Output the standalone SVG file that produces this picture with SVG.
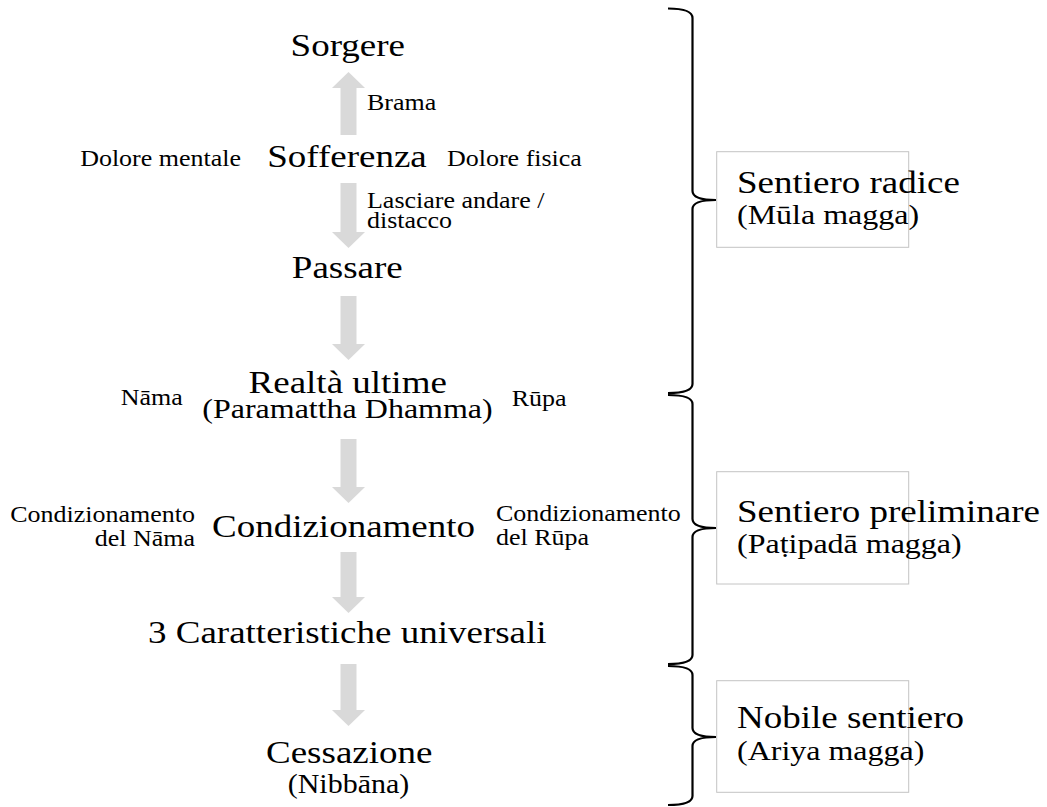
<svg xmlns="http://www.w3.org/2000/svg" width="1047" height="807" viewBox="0 0 1047 807">
<style>
.t{font-family:"Liberation Serif","Times New Roman",serif;fill:#000}
.b{font-size:37px}
.m{font-size:32px}
.s{font-size:26px}
.c{text-anchor:middle}
.e{text-anchor:end}
.arrow{fill:#d9d9d9}
.brace{fill:none;stroke:#000;stroke-width:2.2}
.box{fill:none;stroke:#c4c4c4;stroke-width:1}
</style>
<rect width="1047" height="807" fill="#fff"/>
<g id="connectors">
<polygon class="arrow" points="348.5,72 365,88 356.5,88 356.5,135 340.5,135 340.5,88 332,88"/>
<polygon class="arrow" points="340.5,183 356.5,183 356.5,232 365,232 348.5,248 332,232 340.5,232"/>
<polygon class="arrow" points="340.5,296 356.5,296 356.5,344 365,344 348.5,360 332,344 340.5,344"/>
<polygon class="arrow" points="340.5,439 356.5,439 356.5,487 365,487 348.5,503 332,487 340.5,487"/>
<polygon class="arrow" points="340.5,552 356.5,552 356.5,597 365,597 348.5,613 332,597 340.5,597"/>
<polygon class="arrow" points="340.5,664 356.5,664 356.5,710 365,710 348.5,726 332,710 340.5,710"/>
<path class="brace" d="M668,8.5 Q692.5,8.5 692.5,18 L692.5,191 Q692.5,200 716,200 Q692.5,200 692.5,209 L692.5,384 Q692.5,393 668,393"/>
<path class="brace" d="M668,395 Q692.5,395 692.5,404 L692.5,519 Q692.5,528 716,528 Q692.5,528 692.5,537 L692.5,655 Q692.5,664 668,664"/>
<path class="brace" d="M668,666 Q692.5,666 692.5,675 L692.5,728 Q692.5,737 716,737 Q692.5,737 692.5,746 L692.5,796 Q692.5,805 668,805"/>
</g>
<g id="sorgere"><text class="t b c" transform="translate(347.8,56) scale(1,0.88)">Sorgere</text></g>
<g id="brama"><text class="t s" transform="translate(367,110) scale(1,0.88)">Brama</text></g>
<g id="sofferenza"><text class="t b c" transform="translate(347,166.5) scale(1,0.88)">Sofferenza</text></g>
<g id="dolore-mentale"><text class="t s e" transform="translate(241,166) scale(1,0.88)">Dolore mentale</text></g>
<g id="dolore-fisica"><text class="t s" transform="translate(447,166) scale(1,0.88)">Dolore fisica</text></g>
<g id="lasciare"><text class="t s" transform="translate(367,207.5) scale(1,0.88)">Lasciare andare /</text><text class="t s" transform="translate(367,227.5) scale(1,0.88)">distacco</text></g>
<g id="passare"><text class="t b c" transform="translate(347.3,278) scale(1,0.88)">Passare</text></g>
<g id="realta"><text class="t b c" transform="translate(347.7,393) scale(1,0.88)">Realtà ultime</text><text class="t m c" transform="translate(347.5,417.5) scale(1,0.88)">(Paramattha Dhamma)</text></g>
<g id="nama"><text class="t s" transform="translate(120.7,405) scale(1,0.88)">Nāma</text></g>
<g id="rupa"><text class="t s" transform="translate(511.7,406) scale(1,0.88)">Rūpa</text></g>
<g id="condizionamento"><text class="t b c" transform="translate(343.5,536.5) scale(1,0.88)">Condizionamento</text></g>
<g id="cond-nama"><text class="t s e" transform="translate(195,522) scale(1,0.88)">Condizionamento</text><text class="t s e" transform="translate(195,546) scale(1,0.88)">del Nāma</text></g>
<g id="cond-rupa"><text class="t s" transform="translate(496,521) scale(1,0.88)">Condizionamento</text><text class="t s" transform="translate(496,545) scale(1,0.88)">del Rūpa</text></g>
<g id="caratteristiche"><text class="t b c" transform="translate(347.3,643.3) scale(1,0.88)">3 Caratteristiche universali</text></g>
<g id="cessazione"><text class="t b c" transform="translate(349.2,763) scale(1,0.88)">Cessazione</text><text class="t m c" transform="translate(348.5,793.3) scale(1,0.88)" style="font-size:30px">(Nibbāna)</text></g>
<g id="sentiero-radice"><rect class="box" x="716.7" y="151.7" width="192" height="95.6"/><text class="t b" transform="translate(737,193.3) scale(1,0.88)">Sentiero radice</text><text class="t m" transform="translate(737,224) scale(1,0.88)">(Mūla magga)</text></g>
<g id="sentiero-preliminare"><rect class="box" x="716.7" y="471.7" width="192" height="112.3"/><text class="t b" transform="translate(737,521.7) scale(1,0.88)">Sentiero preliminare</text><text class="t m" transform="translate(737,553) scale(1,0.88)">(Paṭipadā magga)</text></g>
<g id="nobile-sentiero"><rect class="box" x="716.7" y="680.7" width="192" height="111.6"/><text class="t b" transform="translate(737,728.3) scale(1,0.88)">Nobile sentiero</text><text class="t m" transform="translate(737,760) scale(1,0.88)">(Ariya magga)</text></g>
</svg>
